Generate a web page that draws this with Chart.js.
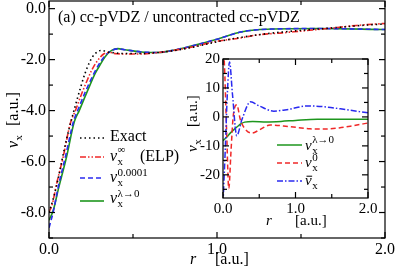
<!DOCTYPE html>
<html>
<head>
<meta charset="utf-8">
<script src="https://cdn.jsdelivr.net/npm/chart.js@4.4.1/dist/chart.umd.min.js"></script>
<style>
  body { margin: 0; background: #fff; }
  #wrap { position: relative; width: 395px; height: 272px; }
  #main { position: absolute; left: 0; top: 0; }
  #inset { position: absolute; left: 180px; top: 50px; }
</style>
</head>
<body>
<div id="wrap">
  <canvas id="main" width="395" height="272"></canvas>
  <canvas id="inset" width="205" height="182"></canvas>
</div>
<script>
// ---- main panel data ----
var rExact = [0, 0.03, 0.06, 0.09, 0.12, 0.155, 0.19, 0.214, 0.245, 0.274, 0.31, 0.36, 0.45, 0.55, 0.65, 0.75, 0.85, 1.0, 1.15, 1.3, 1.45, 1.6, 1.75, 1.9, 2.0];
var vExact = [-8.0, -7.35, -6.5, -5.55, -4.7, -3.85, -3.05, -2.55, -2.05, -1.77, -1.64, -1.71, -1.76, -1.76, -1.72, -1.64, -1.52, -1.3, -1.12, -0.98, -0.88, -0.8, -0.72, -0.64, -0.6];

var rElp = [0, 0.02, 0.046, 0.085, 0.125, 0.16, 0.195, 0.225, 0.254, 0.29, 0.325, 0.36, 0.4, 0.5, 0.6, 0.7, 0.84, 1.0, 1.14, 1.24, 1.39, 1.5, 1.63, 1.73, 1.83, 2.0];
var vElp = [-8.0, -7.65, -6.85, -5.8, -4.55, -3.95, -3.33, -2.85, -2.42, -2.03, -1.78, -1.72, -1.77, -1.78, -1.76, -1.68, -1.52, -1.28, -1.15, -1.03, -0.95, -0.88, -0.8, -0.73, -0.66, -0.58];

var rSmall = [0, 0.026, 0.055, 0.1, 0.145, 0.18, 0.214, 0.245, 0.274, 0.305, 0.34, 0.38, 0.41, 0.45, 0.55, 0.65, 0.75, 0.84, 1.0, 1.14, 1.24, 1.33, 1.6, 2.0];
var vSmall = [-8.6, -7.95, -7.0, -5.75, -4.45, -3.85, -3.3, -2.85, -2.46, -2.1, -1.8, -1.62, -1.58, -1.61, -1.7, -1.72, -1.62, -1.48, -1.2, -0.92, -0.83, -0.8, -0.78, -0.82];

var rZero = [0, 0.026, 0.055, 0.105, 0.15, 0.18, 0.214, 0.245, 0.274, 0.305, 0.333, 0.373, 0.41, 0.45, 0.55, 0.65, 0.75, 0.84, 1.0, 1.14, 1.24, 1.33, 1.6, 2.0];
var vZero = [-8.3, -7.9, -7.1, -5.8, -4.45, -4.0, -3.46, -2.98, -2.55, -2.2, -1.9, -1.64, -1.57, -1.61, -1.7, -1.72, -1.62, -1.48, -1.2, -0.92, -0.83, -0.8, -0.78, -0.82];

var mainXLabels = [0, 1, 2];
var mainXTicks = [0, 0.5, 1, 1.5, 2];
var mainYLabels = [0, -2, -4, -6, -8];
var mainYTicks = [0, -1, -2, -3, -4, -5, -6, -7, -8, -9];

// ---- inset data ----
var rInZero = [0, 0.05, 0.1, 0.15, 0.2, 0.25, 0.3, 0.41, 0.6, 0.8, 1.0, 1.3, 1.6, 2.0];
var vInZero = [-8.2, -7.0, -5.6, -4.4, -3.3, -2.3, -1.8, -1.57, -1.72, -1.55, -1.2, -0.8, -0.78, -0.82];

var rInV0 = [0, 0.02, 0.05, 0.08, 0.11, 0.14, 0.19, 0.24, 0.3, 0.4, 0.5, 0.65, 0.9, 1.2, 1.4, 1.6, 1.8, 2.0];
var vInV0 = [25, 18, -5, -24.7, -12, 0, 4.2, -1, -4, -5.6, -4.5, -2.8, -3.3, -4.1, -4.2, -3.8, -3.0, -2.1];

var rInBar = [0, 0.03, 0.06, 0.09, 0.13, 0.19, 0.26, 0.38, 0.5, 0.7, 0.9, 1.17, 1.4, 1.7, 2.0];
var vInBar = [-30, -12, 8, 19, 8, -6.5, -1, 5.2, 3.8, 2.0, 2.6, 3.8, 3.5, 2.5, 1.4];

var insetXLabels = [0, 1, 2];
var insetXTicks = [0, 0.5, 1, 1.5, 2];
var insetYLabels = [20, 10, 0, -10, -20];
var insetYTicks = [20, 15, 10, 5, 0, -5, -10, -15, -20, -25];

var SERIF = '"Liberation Serif", "DejaVu Serif", serif';
var RED = '#f02828', BLUE = '#2a2af0', GREEN = '#1e961e';

function pairs(xs, ys) {
  return xs.map(function (x, i) { return { x: x, y: ys[i] }; });
}

// v with subscript x and optional superscript
function vx(ctx, x, y, size, sup, bar, supDy) {
  ctx.textAlign = 'left';
  ctx.textBaseline = 'alphabetic';
  ctx.font = 'italic ' + size + 'px ' + SERIF;
  ctx.fillText('v', x, y);
  var w = ctx.measureText('v').width;
  if (bar) ctx.fillRect(x + 1.5, y - size * 0.62, w - 1, 1);
  var s = Math.round(size * 0.7);
  ctx.font = s + 'px ' + SERIF;
  ctx.fillText('x', x + w + 0.5, y + size * 0.27);
  var end = x + w + 0.5 + ctx.measureText('x').width;
  if (sup) {
    ctx.fillText(sup, x + w + 0.5, y - (supDy || size * 0.4));
    end = Math.max(end, x + w + 0.5 + ctx.measureText(sup).width);
  }
  return end;
}

function seg(ctx, x1, y1, x2, y2) {
  ctx.beginPath(); ctx.moveTo(x1, y1); ctx.lineTo(x2, y2); ctx.stroke();
}

function legendLine(ctx, x1, x2, y, color, dash, width) {
  ctx.save();
  ctx.strokeStyle = color; ctx.lineWidth = width || 1.6;
  ctx.setLineDash(dash);
  seg(ctx, x1, y, x2, y);
  ctx.restore();
}

function framePlugin(xt, xMajor, yt, yMajor, drawText, whiteBg) {
  return {
    id: 'frame',
    beforeDatasetsDraw: function (chart) {
      if (!whiteBg) return;
      var a = chart.chartArea, ctx = chart.ctx;
      ctx.save(); ctx.fillStyle = '#fff';
      ctx.fillRect(a.left, a.top, a.right - a.left, a.bottom - a.top);
      ctx.restore();
    },
    afterDraw: function (chart) {
      var a = chart.chartArea, ctx = chart.ctx;
      var sx = chart.scales.x, sy = chart.scales.y;
      ctx.save();
      ctx.strokeStyle = '#000'; ctx.lineWidth = 1.2;
      ctx.strokeRect(a.left, a.top, a.right - a.left, a.bottom - a.top);
      xt.forEach(function (v) {
        var p = sx.getPixelForValue(v), l = xMajor.indexOf(v) >= 0 ? 6 : 4;
        seg(ctx, p, a.bottom, p, a.bottom - l);
        seg(ctx, p, a.top, p, a.top + l);
      });
      yt.forEach(function (v) {
        var p = sy.getPixelForValue(v), l = yMajor.indexOf(v) >= 0 ? 6 : 4;
        seg(ctx, a.left, p, a.left + l, p);
        seg(ctx, a.right, p, a.right - l, p);
      });
      ctx.fillStyle = '#000';
      drawText(ctx);
      ctx.restore();
    }
  };
}

function scaleOpts(min, max, labels, size, pad, fit, isX) {
  return {
    type: 'linear', min: min, max: max,
    grid: { display: false, drawTicks: false },
    border: { display: false },
    afterBuildTicks: function (s) { s.ticks = labels.map(function (v) { return { value: v }; }); },
    afterFit: function (s) {
      if (isX) s.height = fit; else s.width = fit;
      s.paddingLeft = 0; s.paddingRight = 0; s.paddingTop = 0; s.paddingBottom = 0;
    },
    ticks: {
      color: '#000', padding: pad, autoSkip: false, maxRotation: 0,
      font: { family: SERIF, size: size },
      callback: function (v) { return isX ? v.toFixed(1) : (size > 15 ? v.toFixed(1) : String(v)); }
    }
  };
}

var mainChart = new Chart(document.getElementById('main'), {
  type: 'line',
  data: {
    datasets: [
      { data: pairs(rExact, vExact), borderColor: '#000', borderDash: [1.5, 3], borderWidth: 1.6 },
      { data: pairs(rElp, vElp), borderColor: RED, borderDash: [6, 2, 1.5, 2, 1.5, 2], borderWidth: 1.6 },
      { data: pairs(rSmall, vSmall), borderColor: BLUE, borderDash: [5, 3], borderWidth: 1.6 },
      { data: pairs(rZero, vZero), borderColor: GREEN, borderWidth: 1.6 }
    ]
  },
  options: {
    responsive: false, animation: false,
    layout: { padding: { left: 0, top: 1, right: 10, bottom: 0 } },
    elements: { point: { radius: 0 }, line: { cubicInterpolationMode: 'monotone', fill: false } },
    plugins: { legend: { display: false }, tooltip: { enabled: false } },
    scales: {
      x: scaleOpts(0, 2, mainXLabels, 16, 2, 34, true),
      y: scaleOpts(-9, 0.3, mainYLabels, 16, 3, 49, false)
    }
  },
  plugins: [framePlugin(mainXTicks, mainXLabels, mainYTicks, mainYLabels, function (ctx) {
    ctx.font = '16px ' + SERIF; ctx.textAlign = 'left'; ctx.textBaseline = 'alphabetic';
    ctx.fillText('(a) cc-pVDZ / uncontracted cc-pVDZ', 58, 22);
    // x title
    ctx.font = 'italic 16px ' + SERIF;
    ctx.fillText('r', 190, 264);
    ctx.font = '16px ' + SERIF;
    ctx.fillText('[a.u.]', 215, 264);
    // y title
    ctx.save();
    ctx.translate(18, 148); ctx.rotate(-Math.PI / 2);
    vx(ctx, 0, 0, 16, null, false);
    ctx.font = '16px ' + SERIF;
    ctx.fillText('[a.u.]', 22, 0);
    ctx.restore();
    // legend
    legendLine(ctx, 80, 104, 138, '#000', [1.5, 3]);
    ctx.font = '16px ' + SERIF;
    ctx.fillText('Exact', 110, 141);
    legendLine(ctx, 80, 104, 157, RED, [6, 2, 1.5, 2, 1.5, 2]);
    vx(ctx, 110, 161, 16, '\u221E', false, 8);
    ctx.font = '16px ' + SERIF;
    ctx.fillText('(ELP)', 140, 161);
    legendLine(ctx, 80, 104, 178, BLUE, [5, 3]);
    vx(ctx, 110, 182, 16, '0.0001', false, 6);
    legendLine(ctx, 80, 104, 201, GREEN, []);
    vx(ctx, 110, 203, 16, '\u03BB\u2192\u0030', false, 6);
  })]
});

var insetChart = new Chart(document.getElementById('inset'), {
  type: 'line',
  data: {
    datasets: [
      { data: pairs(rInBar, vInBar), borderColor: BLUE, borderDash: [6, 2, 1.5, 2], borderWidth: 1.5 },
      { data: pairs(rInV0, vInV0), borderColor: RED, borderDash: [5, 3], borderWidth: 1.5 },
      { data: pairs(rInZero, vInZero), borderColor: GREEN, borderWidth: 1.5 }
    ]
  },
  options: {
    responsive: false, animation: false,
    layout: { padding: { left: 0, top: 9, right: 17, bottom: 0 } },
    elements: { point: { radius: 0 }, line: { cubicInterpolationMode: 'monotone', fill: false } },
    plugins: { legend: { display: false }, tooltip: { enabled: false } },
    scales: {
      x: scaleOpts(0, 2, insetXLabels, 15, 2, 34, true),
      y: scaleOpts(-28, 20, insetYLabels, 15, 3, 43, false)
    }
  },
  plugins: [framePlugin(insetXTicks, insetXLabels, insetYTicks, insetYLabels, function (ctx) {
    ctx.textAlign = 'left'; ctx.textBaseline = 'alphabetic';
    ctx.font = 'italic 15px ' + SERIF;
    ctx.fillText('r', 86, 175);
    ctx.font = '15px ' + SERIF;
    ctx.fillText('[a.u.]', 115, 175);
    ctx.save();
    ctx.translate(17, 102); ctx.rotate(-Math.PI / 2);
    vx(ctx, 0, 0, 15, null, false);
    ctx.font = '15px ' + SERIF;
    ctx.fillText('[a.u.]', 25, 0);
    ctx.restore();
    legendLine(ctx, 97, 122, 95, GREEN, [], 1.5);
    vx(ctx, 125, 100, 15, '\u03BB\u2192\u0030', false, 7);
    legendLine(ctx, 97, 122, 113, RED, [5, 3], 1.5);
    vx(ctx, 125, 117, 15, '0', false, 6);
    legendLine(ctx, 97, 122, 131, BLUE, [6, 2, 1.5, 2], 1.5);
    vx(ctx, 125, 135, 15, null, true);
  }, true)]
});
</script>
</body>
</html>
